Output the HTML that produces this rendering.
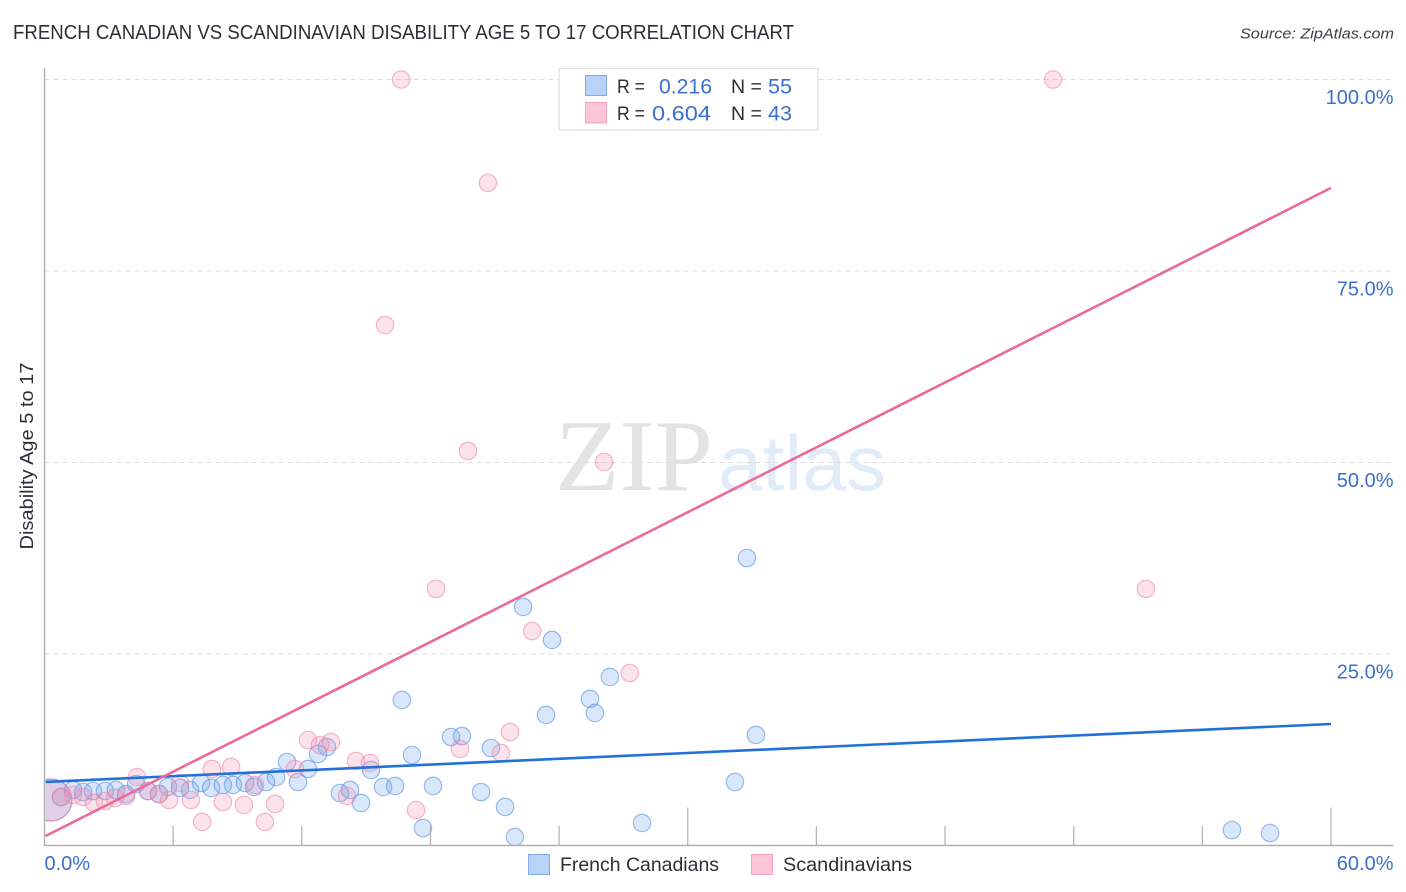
<!DOCTYPE html>
<html lang="en">
<head>
<meta charset="utf-8">
<title>French Canadian vs Scandinavian Disability Age 5 to 17 Correlation Chart</title>
<style>
html,body{margin:0;padding:0;background:#fff;width:1406px;height:892px;overflow:hidden}
svg{display:block;font-family:"Liberation Sans",Arial,sans-serif}
</style>
</head>
<body>
<svg id="chart" width="1406" height="892" viewBox="0 0 1406 892" xmlns="http://www.w3.org/2000/svg">
  <defs>
    <clipPath id="plot-clip"><rect x="45.5" y="60" width="1350" height="785"/></clipPath>
  </defs>
  <text x="13" y="39" font-size="20" fill="#2b2f36" textLength="781" lengthAdjust="spacingAndGlyphs">FRENCH CANADIAN VS SCANDINAVIAN DISABILITY AGE 5 TO 17 CORRELATION CHART</text>
  <text x="1394" y="38.5" font-size="15" font-style="italic" fill="#3a3f47" text-anchor="end" textLength="154" lengthAdjust="spacingAndGlyphs">Source: ZipAtlas.com</text>

  <g>
    <text x="555" y="490" font-family="'Liberation Serif',serif" font-size="102" fill="#e3e3e3" textLength="158" lengthAdjust="spacingAndGlyphs">ZIP</text>
    <text x="718" y="490" font-family="'Liberation Sans',sans-serif" font-size="78" fill="#e2ecf9" textLength="168" lengthAdjust="spacingAndGlyphs">atlas</text>
  </g>

  <g id="grid"></g>
  <g id="ylabels"></g>
  <g id="points-blue" clip-path="url(#plot-clip)"></g>
  <g id="points-pink" clip-path="url(#plot-clip)"></g>
  <g id="lines"></g>
  <g id="axes"></g>
  <g id="xlabels"></g>

  <text transform="translate(33,456) rotate(-90)" font-size="18" fill="#2b2f36" text-anchor="middle" textLength="187" lengthAdjust="spacingAndGlyphs">Disability Age 5 to 17</text>

  <g>
    <rect x="559" y="68.5" width="259" height="61.5" fill="#fff" stroke="#dfdfdf" stroke-width="1.2"/>
    <rect x="585.5" y="75.5" width="21" height="20" fill="#b9d3f8" stroke="#7faae6" stroke-width="1"/>
    <rect x="585.5" y="102.5" width="21" height="20.5" fill="#fdc6d8" stroke="#f5a3bd" stroke-width="1"/>
    <text x="617" y="93" font-size="19.5" fill="#2b2f36" textLength="28" lengthAdjust="spacingAndGlyphs">R =</text>
    <text x="659" y="93.5" font-size="21.5" fill="#3a70d0" textLength="53" lengthAdjust="spacingAndGlyphs">0.216</text>
    <text x="731" y="93" font-size="19.5" fill="#2b2f36">N =</text>
    <text x="768" y="93.5" font-size="21.5" fill="#3a70d0" textLength="24" lengthAdjust="spacingAndGlyphs">55</text>
    <text x="617" y="120" font-size="19.5" fill="#2b2f36" textLength="28" lengthAdjust="spacingAndGlyphs">R =</text>
    <text x="652" y="120.5" font-size="21.5" fill="#3a70d0" textLength="59" lengthAdjust="spacingAndGlyphs">0.604</text>
    <text x="731" y="120" font-size="19.5" fill="#2b2f36">N =</text>
    <text x="768" y="120.5" font-size="21.5" fill="#3a70d0" textLength="24" lengthAdjust="spacingAndGlyphs">43</text>
  </g>

  <g>
    <rect x="528.5" y="854.5" width="21" height="20" fill="#b9d3f8" stroke="#7faae6" stroke-width="1"/>
    <text x="560" y="871" font-size="19.5" fill="#2b2f36" textLength="159" lengthAdjust="spacingAndGlyphs">French Canadians</text>
    <rect x="751.5" y="854.5" width="21" height="20" fill="#fdc6d8" stroke="#f5a3bd" stroke-width="1"/>
    <text x="783" y="871" font-size="19.5" fill="#2b2f36" textLength="129" lengthAdjust="spacingAndGlyphs">Scandinavians</text>
  </g>
</svg>
<script>
const blueX = [0.30,0.77,1.33,1.80,2.26,2.82,3.33,3.80,4.27,4.83,5.34,5.76,6.32,6.79,7.30,7.77,8.32,8.79,9.35,9.77,10.33,10.80,11.31,11.82,12.29,12.76,13.17,13.78,14.25,14.76,15.23,15.79,16.35,16.67,17.14,17.65,18.12,18.96,19.47,20.36,20.82,21.48,21.94,22.32,23.39,23.67,25.44,25.67,26.37,27.87,32.20,32.76,33.18,55.38,57.16];
const blueY = [5.94,6.33,7.25,6.98,7.11,7.11,7.25,6.72,8.03,7.11,6.72,7.64,7.51,7.25,8.16,7.51,7.90,7.90,8.16,7.64,8.29,8.94,10.90,8.29,9.99,11.95,12.86,6.85,7.25,5.55,9.86,7.64,7.77,19.00,11.81,2.28,7.77,14.16,14.29,6.98,12.73,5.03,1.11,31.14,17.04,26.83,19.13,17.30,22.00,2.94,8.29,37.53,14.43,2.02,1.63];
const pinkX = [0.30,0.77,1.33,1.80,2.31,2.82,3.29,3.80,4.31,4.83,5.34,5.81,6.32,6.83,7.35,7.81,8.32,8.70,9.30,9.82,10.28,10.75,11.68,12.29,12.85,13.36,14.11,14.53,15.18,15.88,16.63,17.33,18.26,19.38,19.75,20.68,21.29,21.71,22.74,26.10,27.30,47.04,51.37];
const pinkY = [5.94,6.33,6.59,6.33,5.55,5.81,6.20,6.46,8.94,7.11,6.72,5.94,8.16,5.94,3.07,9.99,5.68,10.25,5.29,7.90,3.07,5.42,9.99,13.77,13.12,13.51,6.46,11.03,10.77,67.95,100,4.63,33.50,12.60,51.50,86.50,12.08,14.82,28.00,50.07,22.52,100,33.50];
const blueBigCount = 1;
const pinkBigCount = 1;
const blueTrend = [8.3, 15.86];
const pinkTrend = [1.24, 85.85];
const trendDomain = [0.05, 60];
const xTickValues = [0,6,12,18,24,30,36,42,48,54,60];
const xTickMajor = [0,30,60];
const yTickValues = [100,75,50,25];
const yTickLabels = ["100.0%","75.0%","50.0%","25.0%"];
const xEdgeLabels = ["0.0%","60.0%"];

const NS = "http://www.w3.org/2000/svg";
const sx = v => 44.5 + v / 60 * 1286.5;
const sy = v => 845.5 - v / 100 * 766;
function mk(parent, tag, attrs){
  const el = document.createElementNS(NS, tag);
  for (const k in attrs) el.setAttribute(k, attrs[k]);
  document.getElementById(parent).appendChild(el);
  return el;
}

yTickValues.forEach((v,i) => {
  const g = mk("grid","line",{x1:44.5,x2:1393,y1:sy(v),y2:sy(v),stroke:"#dcdcdc","stroke-width":1,"stroke-dasharray":"5 4"});
  
  
  const t = mk("ylabels","text",{x:1393.5,y:sy(v)+24.5,"font-size":20,fill:"#3a70d0","text-anchor":"end"});
  t.textContent = yTickLabels[i];
  
  
});

blueX.forEach((v,i) => {
  const c = mk("points-blue","circle",{cx:sx(v),cy:sy(blueY[i]),r:i < blueBigCount ? 21 : 8.7,fill:"#6ea3ec","fill-opacity":0.26,stroke:"#5f93e0","stroke-opacity":0.62,"stroke-width":1.2});
  
  
});
pinkX.forEach((v,i) => {
  const c = mk("points-pink","circle",{cx:sx(v),cy:sy(pinkY[i]),r:i < pinkBigCount ? 21 : 8.7,fill:"#f58fb0","fill-opacity":0.26,stroke:"#ee7fa3","stroke-opacity":0.55,"stroke-width":1.2});
  
  
});

const lb = mk("lines","line",{x1:sx(trendDomain[0]),x2:sx(trendDomain[1]),y1:sy(blueTrend[0]),y2:sy(blueTrend[1]),stroke:"#2270d8","stroke-width":2.6});


const lp = mk("lines","line",{x1:sx(trendDomain[0]),x2:sx(trendDomain[1]),y1:sy(pinkTrend[0]),y2:sy(pinkTrend[1]),stroke:"#ea6a98","stroke-width":2.6});



const ya = mk("axes","line",{x1:44.5,x2:44.5,y1:68,y2:846,stroke:"#b0b0b0","stroke-width":1.4});


const xa = mk("axes","line",{x1:44,x2:1393.5,y1:845.5,y2:845.5,stroke:"#b0b0b0","stroke-width":1.4});


xTickValues.forEach(v => {
  if (v === 0) return;
  const top = xTickMajor.includes(v) ? 807.5 : 826;
  const tk = mk("axes","line",{x1:sx(v),x2:sx(v),y1:top,y2:845.5,stroke:"#b5b5b5","stroke-width":1.3});
  
  
});

const x0 = mk("xlabels","text",{x:44.5,y:870,"font-size":20,fill:"#3a70d0"});
x0.textContent = xEdgeLabels[0];


const x1 = mk("xlabels","text",{x:1393.5,y:870,"font-size":20,fill:"#3a70d0","text-anchor":"end"});
x1.textContent = xEdgeLabels[1];


</script>
</body>
</html>
